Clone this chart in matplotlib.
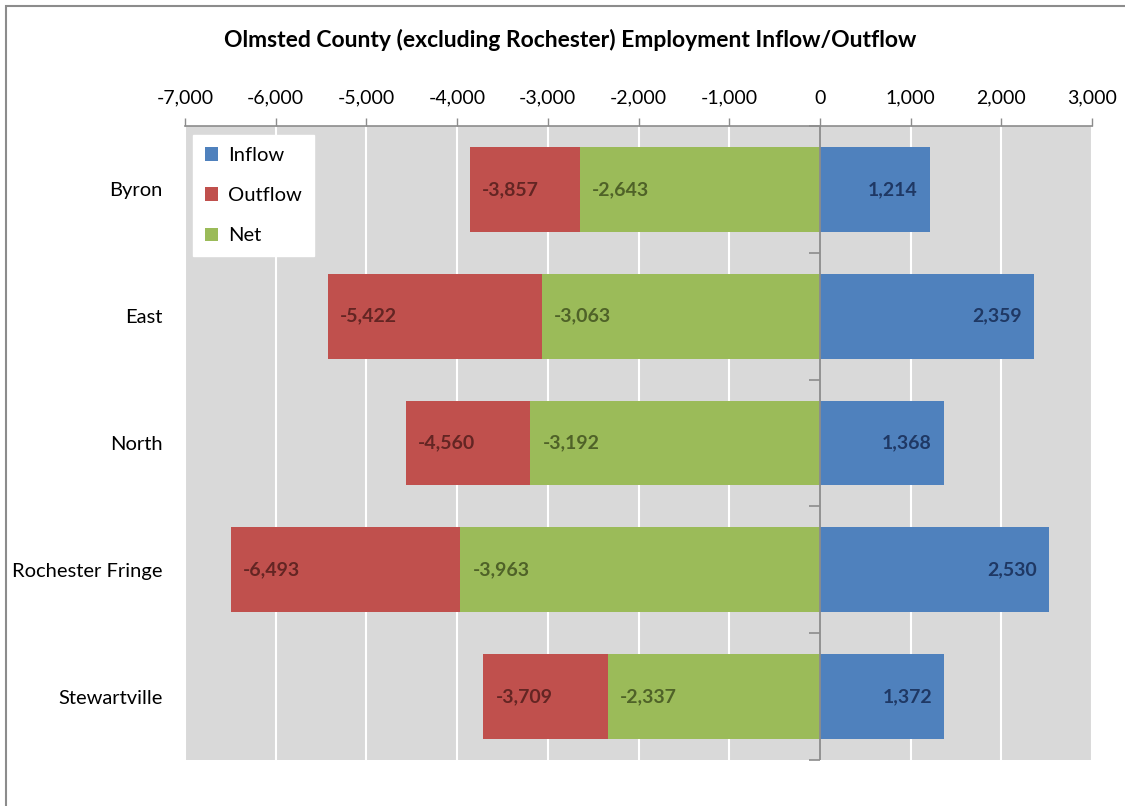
import matplotlib
matplotlib.use("Agg")
import matplotlib.pyplot as plt
from matplotlib.patches import Rectangle
from matplotlib.ticker import FuncFormatter
from matplotlib import transforms

categories = ["Byron", "East", "North", "Rochester Fringe", "Stewartville"]
inflow = [1214, 2359, 1368, 2530, 1372]
outflow = [-3857, -5422, -4560, -6493, -3709]
net = [-2643, -3063, -3192, -3963, -2337]
xticks = list(range(-7000, 3001, 1000))

C_IN, C_OUT, C_NET = "#4F81BD", "#C0504D", "#9BBB59"
T_IN, T_OUT, T_NET = "#1F3864", "#632523", "#4F6228"
GRAY = "#8C8C8C"

plt.rcParams['font.family'] = ['Lato', 'DejaVu Sans']

fig = plt.figure(figsize=(11.25, 8.06), dpi=100)
# outer chart border
fig.patches.append(Rectangle((6/1125, -0.1), 1.2, 1 - 6/806 + 0.1, transform=fig.transFigure,
                             fill=False, edgecolor=GRAY, linewidth=1.5))

ax = fig.add_axes([185/1125, 1 - 760/806, (1092-185)/1125, (760-126)/806])
ax.set_facecolor("#D9D9D9")

y = list(range(len(categories)))
h = 0.67
ax.barh(y, outflow, height=h, color=C_OUT, label="Outflow", zorder=2)
ax.barh(y, net, height=h, color=C_NET, label="Net", zorder=3)
ax.barh(y, inflow, height=h, color=C_IN, label="Inflow", zorder=3)

off = transforms.offset_copy(ax.transData, fig=fig, x=12, y=0, units='dots')
offr = transforms.offset_copy(ax.transData, fig=fig, x=-12, y=0, units='dots')
for i in y:
    ax.text(outflow[i], i, f"{outflow[i]:,}", transform=off, ha="left", va="center",
            color=T_OUT, fontsize=14, fontweight="bold", zorder=5)
    ax.text(net[i], i, f"{net[i]:,}", transform=off, ha="left", va="center",
            color=T_NET, fontsize=14, fontweight="bold", zorder=5)
    ax.text(inflow[i], i, f"{inflow[i]:,}", transform=offr, ha="right", va="center",
            color=T_IN, fontsize=14, fontweight="bold", zorder=5)

ax.set_xlim(-7000, 3000)
ax.set_ylim(len(categories) - 0.5, -0.5)
ax.set_xticks(xticks)
ax.xaxis.set_major_formatter(FuncFormatter(lambda v, p: f"{int(v):,}"))
ax.xaxis.tick_top()
ax.tick_params(axis="x", direction="out", length=6, color=GRAY, width=1,
               labelsize=14, pad=8, labelcolor="black")
for v in xticks:
    if v != 0:
        ax.axvline(v, color="white", linewidth=1.5, zorder=1)
ax.axvline(0, color=GRAY, linewidth=1.3, zorder=6)

ax.set_yticks(y)
ax.set_yticklabels(categories)
ax.tick_params(axis="y", length=0, labelsize=14.5, pad=16)

for s in ["left", "right", "bottom"]:
    ax.spines[s].set_visible(False)
ax.spines["top"].set_color(GRAY)
ax.spines["top"].set_linewidth(1.2)

# tick marks on the vertical category axis at x=0
sec = ax.secondary_yaxis(0.7)
sec.set_yticks([i - 0.5 for i in range(len(categories) + 1)])
sec.set_yticklabels([])
sec.tick_params(axis="y", direction="in", length=8, color=GRAY, width=1.2)
for s in sec.spines.values():
    s.set_visible(False)
sec.set_zorder(6)

handles, labels = ax.get_legend_handles_labels()
order = [labels.index("Inflow"), labels.index("Outflow"), labels.index("Net")]
leg = ax.legend([handles[k] for k in order], [labels[k] for k in order],
                loc="upper left", bbox_to_anchor=(8/907, 1 - 9/634), fontsize=14.5,
                frameon=True, fancybox=False, framealpha=1, edgecolor="white",
                handlelength=0.65, handleheight=0.65, handletextpad=0.5,
                labelspacing=1.15, borderpad=0.6, borderaxespad=0)
leg.set_zorder(7)

fig.text(570/1125, 1 - 40/806, "Olmsted County (excluding Rochester) Employment Inflow/Outflow",
         ha="center", va="center", fontsize=16.5, fontweight="bold")

fig.savefig("out.png", dpi=100)
